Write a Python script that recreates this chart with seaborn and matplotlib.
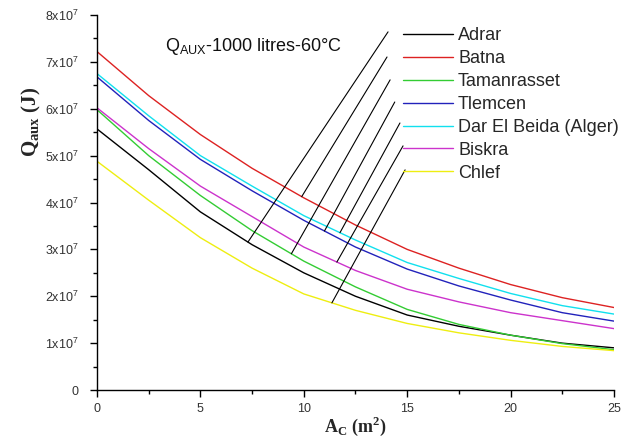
import numpy as np
import pandas as pd
import matplotlib
matplotlib.use("Agg")
import matplotlib.pyplot as plt
from matplotlib.ticker import FixedLocator, MultipleLocator, FuncFormatter
import seaborn as sns

# ---- data (values in units of 1e7 J) ----
area = [0, 2.5, 5, 7.5, 10, 12.5, 15, 17.5, 20, 22.5, 25]
adrar = [5.57, 4.70, 3.80, 3.10, 2.50, 2.00, 1.60, 1.36, 1.17, 1.00, 0.90]
batna = [7.22, 6.28, 5.45, 4.73, 4.10, 3.52, 3.00, 2.60, 2.25, 1.97, 1.76]
tamanrasset = [5.98, 5.00, 4.15, 3.40, 2.75, 2.20, 1.72, 1.40, 1.17, 0.99, 0.86]
tlemcen = [6.68, 5.75, 4.92, 4.25, 3.62, 3.05, 2.58, 2.22, 1.92, 1.65, 1.47]
dar_el_beida = [6.75, 5.85, 5.00, 4.35, 3.72, 3.20, 2.72, 2.38, 2.06, 1.80, 1.62]
biskra = [6.02, 5.15, 4.35, 3.70, 3.05, 2.55, 2.15, 1.88, 1.65, 1.48, 1.31]
chlef = [4.88, 4.05, 3.25, 2.60, 2.05, 1.70, 1.42, 1.22, 1.06, 0.93, 0.84]

stations = ["Adrar", "Batna", "Tamanrasset", "Tlemcen",
            "Dar El Beida (Alger)", "Biskra", "Chlef"]
series = [adrar, batna, tamanrasset, tlemcen, dar_el_beida, biskra, chlef]
colors = ["#000000", "#dd2222", "#33cc33", "#2222bb", "#11e0ee", "#cc33cc", "#eeee11"]
# x position where each leader line meets its curve
leader_x = [7.3, 9.9, 9.4, 11.0, 11.75, 11.6, 11.36]
yticks = [0, 1, 2, 3, 4, 5, 6, 7, 8]
xticks = [0, 5, 10, 15, 20, 25]
title_text = r"Q$_{\mathrm{AUX}}$-1000 litres-60°C"

SCALE = 1e7
df = pd.concat([
    pd.DataFrame({"A": area, "Q": np.array(s) * SCALE, "station": name})
    for name, s in zip(stations, series)
], ignore_index=True)

sns.set_style("ticks")
plt.rcParams["font.family"] = ["Liberation Sans", "DejaVu Sans"]
plt.rcParams["mathtext.fontset"] = "custom"
plt.rcParams["mathtext.rm"] = "Liberation Sans"
plt.rcParams["mathtext.it"] = "Liberation Sans:italic"
plt.rcParams["mathtext.bf"] = "Liberation Serif:bold"

fig = plt.figure(figsize=(6.31, 4.41), dpi=100)
ax = fig.add_axes([0.1537, 0.1156, 0.8193, 0.8504])

sns.lineplot(data=df, x="A", y="Q", hue="station", hue_order=stations,
             palette=dict(zip(stations, colors)), linewidth=1.0, ax=ax)

ax.set_xlim(0, 25)
ax.set_ylim(0, 8 * SCALE)
ax.xaxis.set_major_locator(FixedLocator(xticks))
ax.xaxis.set_minor_locator(MultipleLocator(2.5))
ax.yaxis.set_major_locator(FixedLocator([v * SCALE for v in yticks]))
ax.yaxis.set_minor_locator(MultipleLocator(0.5 * SCALE))


def yfmt(v, pos):
    n = int(round(v / SCALE))
    return "0" if n == 0 else f"{n}x10$^{{7}}$"


ax.yaxis.set_major_formatter(FuncFormatter(yfmt))
ax.xaxis.set_major_formatter(FuncFormatter(lambda v, p: f"{int(v)}"))
ax.tick_params(which="major", direction="out", length=5, width=1,
               labelsize=9, colors="black", labelcolor="#333333")
ax.tick_params(axis="y", which="major", pad=8)
ax.tick_params(axis="x", which="major", pad=4)
ax.tick_params(which="minor", direction="out", length=3, width=1, colors="black")
for side in ["top", "right"]:
    ax.spines[side].set_visible(False)
for side in ["left", "bottom"]:
    ax.spines[side].set_linewidth(1.0)
    ax.spines[side].set_color("black")

ax.set_xlabel(r"A$_{\mathbf{C}}$ (m$^{\mathbf{2}}$)", fontfamily="Liberation Serif",
              fontweight="bold", fontsize=13, labelpad=0)
ax.set_ylabel(r"Q$_{\mathbf{aux}}$ (J)", fontfamily="Liberation Serif",
              fontweight="bold", fontsize=15, labelpad=6)
ax.yaxis.set_label_coords(-0.105, 0.715)

# legend
handles, labels = ax.get_legend_handles_labels()
ax.legend(handles, labels, loc="upper left", bbox_to_anchor=(0.592, 0.968),
          frameon=False, fontsize=13, handlelength=2.75, handletextpad=0.3,
          labelspacing=0.33, borderpad=0, borderaxespad=0)

# annotation text
ax.text(0.132, 0.915, title_text, transform=ax.transAxes, fontsize=13,
        va="center", ha="left", color="#111111")

# leader lines from legend to curves
starts = [(0.563, 0.955), (0.561, 0.888), (0.567, 0.827), (0.576, 0.768),
          (0.586, 0.712), (0.592, 0.651), (0.596, 0.587)]
for (fx, fy), xe, s in zip(starts, leader_x, series):
    ye = np.interp(xe, area, s) * SCALE
    ax.annotate("", xy=(xe, ye), xycoords="data", xytext=(fx, fy),
                textcoords="axes fraction",
                arrowprops=dict(arrowstyle="-", color="black", lw=0.8,
                                shrinkA=0, shrinkB=0))

fig.savefig("out.png", dpi=100)
